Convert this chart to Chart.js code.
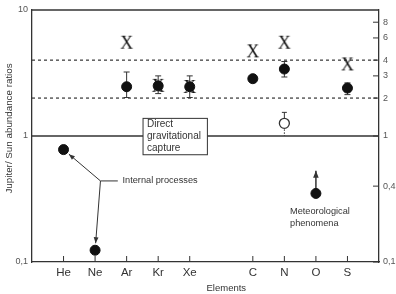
<!DOCTYPE html>
<html>
<head>
<meta charset="utf-8">
<script src="https://cdn.jsdelivr.net/npm/chart.js@4.4.1/dist/chart.umd.min.js"></script>
<style>
  body { margin: 0; background: #fff; }
  #wrap { width: 396px; height: 294px; }
</style>
</head>
<body>
<div id="wrap"><canvas id="chart"></canvas></div>
<script>
// elements on the x axis (blank slot between the noble gases and C)
const categories = ['He', 'Ne', 'Ar', 'Kr', 'Xe', '', 'C', 'N', 'O', 'S'];
// Jupiter / Sun ratios (filled dots)
const measured  = [0.78, 0.124, 2.46, 2.5, 2.46, null, 2.85, 3.4, null, 2.4];
const errLow    = [null, null, 2.02, 2.17, 2.02, null, null, 2.94, null, 2.13];
const errHigh   = [null, null, 3.22, 3.0, 3.0, null, null, 3.9, null, 2.64];
// "X" marks
const crossVals = [null, null, 5.5, 2.5, 2.45, null, 4.7, 5.5, null, 3.7];
// open circle (N)
const openVals  = [null, null, null, null, null, null, null, 1.26, null, null];
const openHigh  = [null, null, null, null, null, null, null, 1.54, null, null];
const openLow   = [null, null, null, null, null, null, null, 1.0, null, null];
// meteorological O (lower limit with arrow)
const meteoVals = [null, null, null, null, null, null, null, null, 0.35, null];
const meteoUp   = [null, null, null, null, null, null, null, null, 0.53, null];
// axis ticks and reference lines
const leftTicks  = [0.1, 1, 10];
const rightTicks = [0.1, 0.4, 1, 2, 3, 4, 6, 8];
const dashedRefs = [2, 4];
const solidRef   = 1;

function toPoints(arr) {
  return arr.map((v, i) => v == null ? null : { x: i + 1, y: v }).filter(p => p);
}
function fmt(v) {
  return String(v).replace('.', ',');
}

// serif X used as point style
const xMark = document.createElement('canvas');
xMark.width = 18; xMark.height = 18;
(function () {
  const c = xMark.getContext('2d');
  c.fillStyle = '#111';
  c.font = "18px 'Liberation Serif', 'DejaVu Serif', serif";
  c.textAlign = 'center';
  c.textBaseline = 'middle';
  c.fillText('X', 9, 10);
})();

Chart.defaults.font.family = "'Liberation Sans', Arial, sans-serif";
Chart.defaults.color = '#444';

function seg(ctx, x1, y1, x2, y2) {
  ctx.beginPath(); ctx.moveTo(x1, y1); ctx.lineTo(x2, y2); ctx.stroke();
}
function arrow(ctx, x1, y1, x2, y2, head) {
  seg(ctx, x1, y1, x2, y2);
  const a = Math.atan2(y2 - y1, x2 - x1);
  ctx.beginPath();
  ctx.moveTo(x2, y2);
  ctx.lineTo(x2 - head * Math.cos(a) + head * 0.4 * Math.sin(a), y2 - head * Math.sin(a) - head * 0.4 * Math.cos(a));
  ctx.lineTo(x2 - head * Math.cos(a) - head * 0.4 * Math.sin(a), y2 - head * Math.sin(a) + head * 0.4 * Math.cos(a));
  ctx.closePath();
  ctx.fill();
}

const decor = {
  id: 'decor',
  beforeDatasetsDraw(chart) {
    const { ctx, chartArea: ca, scales } = chart;
    const x = scales.x, y = scales.y;
    ctx.save();
    ctx.strokeStyle = '#333';
    ctx.fillStyle = '#333';

    // top frame
    ctx.lineWidth = 1.3;
    seg(ctx, ca.left, ca.top, ca.right, ca.top);

    // inward tick marks
    ctx.lineWidth = 1;
    categories.forEach((c, i) => {
      if (!c) return;
      const px = x.getPixelForValue(i + 1);
      seg(ctx, px, ca.bottom, px, ca.bottom - 6);
    });
    rightTicks.forEach(v => {
      const py = y.getPixelForValue(v);
      seg(ctx, ca.right - 6, py, ca.right, py);
    });

    // reference lines
    ctx.lineWidth = 1.2;
    ctx.setLineDash([3, 3]);
    dashedRefs.forEach(v => {
      const py = y.getPixelForValue(v);
      seg(ctx, ca.left, py, ca.right, py);
    });
    ctx.setLineDash([]);
    ctx.lineWidth = 1.4;
    const p1 = y.getPixelForValue(solidRef);
    seg(ctx, ca.left, p1, ca.right, p1);

    // box "Direct gravitational capture"
    const bx1 = x.getPixelForValue(3.52), bx2 = x.getPixelForValue(5.56);
    const by1 = y.getPixelForValue(1.38), by2 = y.getPixelForValue(0.71);
    ctx.fillStyle = '#fff';
    ctx.fillRect(bx1, by1, bx2 - bx1, by2 - by1);
    ctx.lineWidth = 1;
    ctx.strokeRect(bx1, by1, bx2 - bx1, by2 - by1);
    ctx.fillStyle = '#333';
    ctx.font = "10px 'Liberation Sans', Arial, sans-serif";
    ctx.textBaseline = 'middle';
    ctx.textAlign = 'left';
    ['Direct', 'gravitational', 'capture'].forEach((t, k) => {
      ctx.fillText(t, bx1 + 4, by1 + 6 + k * 12);
    });

    // error bars
    ctx.lineWidth = 1;
    errLow.forEach((lo, i) => {
      if (lo == null) return;
      const px = x.getPixelForValue(i + 1);
      const pl = y.getPixelForValue(lo), ph = y.getPixelForValue(errHigh[i]);
      seg(ctx, px, pl, px, ph);
      seg(ctx, px - 3, ph, px + 3, ph);
      seg(ctx, px - 3, pl, px + 3, pl);
    });
    openVals.forEach((v, i) => {
      if (v == null) return;
      const px = x.getPixelForValue(i + 1);
      const ph = y.getPixelForValue(openHigh[i]);
      const pv = y.getPixelForValue(v);
      const pl = y.getPixelForValue(openLow[i]);
      seg(ctx, px, ph, px, pv);
      seg(ctx, px - 2.5, ph, px + 2.5, ph);
      ctx.setLineDash([1.5, 1.5]);
      seg(ctx, px, pv, px, pl);
      ctx.setLineDash([]);
    });

    // meteorological arrow
    ctx.lineWidth = 1.5;
    meteoVals.forEach((v, i) => {
      if (v == null) return;
      const px = x.getPixelForValue(i + 1);
      arrow(ctx, px, y.getPixelForValue(v), px, y.getPixelForValue(meteoUp[i]), 7);
    });

    // internal processes arrows
    ctx.lineWidth = 1;
    const jx = x.getPixelForValue(2.17), jy = y.getPixelForValue(0.44);
    seg(ctx, jx, jy, x.getPixelForValue(2.72), jy);
    [0, 1].forEach(i => {
      const dx = x.getPixelForValue(i + 1), dy = y.getPixelForValue(measured[i]);
      const d = Math.hypot(dx - jx, dy - jy);
      const ex = dx + (jx - dx) * 7 / d, ey = dy + (jy - dy) * 7 / d;
      arrow(ctx, jx, jy, ex, ey, 6);
    });

    // texts
    ctx.fillStyle = '#333';
    ctx.font = "9.2px 'Liberation Sans', Arial, sans-serif";
    ctx.fillText('Internal processes', x.getPixelForValue(2.87), jy);
    const mx = x.getPixelForValue(8.18);
    ctx.fillText('Meteorological', mx, y.getPixelForValue(0.25));
    ctx.fillText('phenomena', mx, y.getPixelForValue(0.203));

    ctx.font = "9.5px 'Liberation Sans', Arial, sans-serif";
    ctx.textAlign = 'center';
    ctx.fillText('Elements', ca.left + (ca.right - ca.left) * 0.56, 288);

    ctx.save();
    ctx.translate(9, ca.top + (ca.bottom - ca.top) * 0.47);
    ctx.rotate(-Math.PI / 2);
    ctx.font = "9.8px 'Liberation Sans', Arial, sans-serif";
    ctx.fillText('Jupiter/ Sun abundance ratios', 0, 0);
    ctx.restore();

    ctx.restore();
  }
};

new Chart(document.getElementById('chart'), {
  type: 'scatter',
  data: {
    datasets: [
      {
        data: toPoints(crossVals),
        pointStyle: xMark,
        pointRadius: 9,
        order: 3
      },
      {
        data: toPoints(measured).concat(toPoints(meteoVals)),
        pointStyle: 'circle',
        pointRadius: 5,
        backgroundColor: '#111',
        borderColor: '#111',
        borderWidth: 1,
        order: 1
      },
      {
        data: toPoints(openVals),
        pointStyle: 'circle',
        pointRadius: 5,
        backgroundColor: '#fff',
        borderColor: '#333',
        borderWidth: 1.3,
        order: 2
      }
    ]
  },
  options: {
    responsive: true,
    maintainAspectRatio: false,
    animation: false,
    events: [],
    layout: { padding: { top: 4, left: 0, right: 0, bottom: 0 } },
    plugins: {
      legend: { display: false },
      tooltip: { enabled: false }
    },
    scales: {
      x: {
        type: 'linear',
        min: 0,
        max: 11,
        afterBuildTicks: s => { s.ticks = categories.map((c, i) => ({ value: i + 1 })); },
        afterFit: s => { s.height = 32; },
        grid: { display: false, drawTicks: false },
        border: { color: '#333', width: 1.3 },
        ticks: {
          autoSkip: false,
          maxRotation: 0,
          padding: 4,
          color: '#333',
          font: { size: 11.5 },
          callback: v => categories[v - 1] || ''
        }
      },
      y: {
        type: 'logarithmic',
        position: 'left',
        min: 0.1,
        max: 10,
        afterBuildTicks: s => { s.ticks = leftTicks.map(v => ({ value: v })); },
        afterFit: s => { s.width = 32; },
        grid: { display: false, drawTicks: false },
        border: { color: '#333', width: 1.3 },
        ticks: { padding: 4, color: '#555', font: { size: 9 }, callback: v => fmt(v) }
      },
      y2: {
        type: 'logarithmic',
        position: 'right',
        min: 0.1,
        max: 10,
        afterBuildTicks: s => { s.ticks = rightTicks.map(v => ({ value: v })); },
        afterFit: s => { s.width = 17; },
        grid: { display: false, drawTicks: false },
        border: { color: '#333', width: 1.3 },
        ticks: { padding: 4, color: '#555', font: { size: 9 }, callback: v => fmt(v) }
      }
    }
  },
  plugins: [decor]
});
</script>
</body>
</html>
